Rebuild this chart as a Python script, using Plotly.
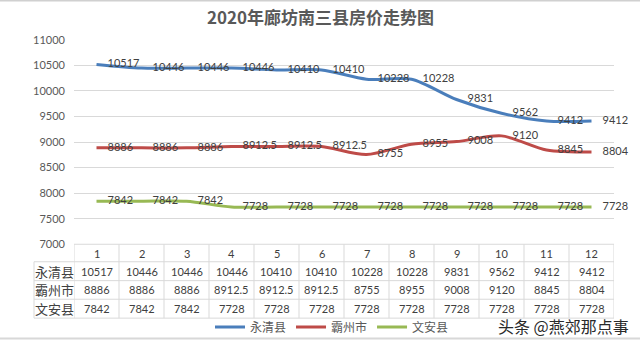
import plotly.graph_objects as go

# ---------------- data ----------------
title_text = "2020年廊坊南三县房价走势图"
months = [1, 2, 3, 4, 5, 6, 7, 8, 9, 10, 11, 12]
series_names = ["永清县", "霸州市", "文安县"]
yongqing = [10517, 10446, 10446, 10446, 10410, 10410, 10228, 10228, 9831, 9562, 9412, 9412]
bazhou = [8886, 8886, 8886, 8912.5, 8912.5, 8912.5, 8755, 8955, 9008, 9120, 8845, 8804]
wenan = [7842, 7842, 7842, 7728, 7728, 7728, 7728, 7728, 7728, 7728, 7728, 7728]
y_ticks = [7000, 7500, 8000, 8500, 9000, 9500, 10000, 10500, 11000]
watermark = "头条 @燕郊那点事"

# ---------------- style ----------------
W, H = 640, 342
colors = ["#4A7EBB", "#BE4B48", "#98B954"]
FONT = "Lato, 'Noto Sans CJK SC', sans-serif"
CJK = "'Noto Sans CJK SC', sans-serif"
TXT = "#404040"
GRID = "#D9D9D9"

plot_left, plot_right = 74, 614      # px
plot_top, plot_bottom = 40, 245.7    # px
label_left = 34                      # px
row_lines = [245.7, 263.3, 282.3, 301.0, 320.0]  # px


def py(p):
    return 1 - p / H


def px(p):
    return p / W


def fmt(v):
    return f"{v:g}"


series = [yongqing, bazhou, wenan]

fig = go.Figure()
for name, vals, c in zip(series_names, series, colors):
    fig.add_trace(go.Scatter(
        x=months, y=vals, name=name, mode="lines+markers+text",
        line=dict(color=c, width=3, shape="spline", smoothing=0.8),
        marker=dict(size=16, opacity=0, color=c),
        text=[fmt(v) for v in vals], textposition="middle right",
        textfont=dict(family=FONT, size=11, color=TXT),
        cliponaxis=False, hoverinfo="skip", showlegend=False,
    ))
# legend entries (line samples only)
for name, c in zip(series_names, colors):
    fig.add_trace(go.Scatter(x=[None], y=[None], name=name, mode="lines",
                             line=dict(color=c, width=3), showlegend=True,
                             hoverinfo="skip"))

shapes = []
annotations = []


def ann(x, y, text, font, xref="paper"):
    annotations.append(dict(x=x, y=y, xref=xref, yref="paper", text=text,
                            showarrow=False, xanchor="center", yanchor="middle",
                            font=font))


# table horizontal lines
for i, r in enumerate(row_lines):
    x0 = px(plot_left) if i == 0 else px(label_left)
    shapes.append(dict(type="line", xref="paper", yref="paper",
                       x0=x0, x1=px(plot_right), y0=py(r), y1=py(r),
                       line=dict(color=GRID, width=1)))
# table vertical lines (category boundaries)
bounds = [m - 0.5 for m in months] + [months[-1] + 0.5]
for b in bounds:
    shapes.append(dict(type="line", xref="x", yref="paper",
                       x0=b, x1=b, y0=py(row_lines[0]), y1=py(row_lines[-1]),
                       line=dict(color=GRID, width=1)))
shapes.append(dict(type="line", xref="paper", yref="paper",
                   x0=px(label_left), x1=px(label_left),
                   y0=py(row_lines[1]), y1=py(row_lines[-1]),
                   line=dict(color=GRID, width=1)))
# frame lines of the picture
shapes.append(dict(type="line", xref="paper", yref="paper", x0=0, x1=1,
                   y0=py(0.5), y1=py(0.5), line=dict(color="#D0D0D0", width=2)))
shapes.append(dict(type="line", xref="paper", yref="paper", x0=0, x1=1,
                   y0=py(340.5), y1=py(340.5), line=dict(color="#D8D8D8", width=2)))

numfont = dict(family=FONT, size=11, color=TXT)
# header row
hy = (row_lines[0] + row_lines[1]) / 2
for m in months:
    ann(m, py(hy), str(m), numfont, xref="x")
# data rows
for r, (name, vals) in enumerate(zip(series_names, series)):
    cy = (row_lines[r + 1] + row_lines[r + 2]) / 2
    ann(px((label_left + plot_left) / 2), py(cy), name,
        dict(family=CJK, size=13, color=TXT))
    for m, v in zip(months, vals):
        ann(m, py(cy), fmt(v), numfont, xref="x")

# title
ann(0.5, py(17), "<b>" + title_text + "</b>", dict(family=CJK, size=17, color="#595959"))
# watermark
ann(px(563), py(328), watermark, dict(family=CJK, size=16, color="#2A2A2A"))

fig.update_layout(
    width=W, height=H,
    margin=dict(l=0, r=0, t=0, b=0),
    paper_bgcolor="white", plot_bgcolor="white",
    shapes=shapes, annotations=annotations,
    showlegend=True,
    legend=dict(orientation="h", x=px(332), xanchor="center", y=py(329), yanchor="middle",
                font=dict(family=CJK, size=12, color="#595959"),
                itemwidth=30, tracegroupgap=0, bgcolor="rgba(0,0,0,0)"),
    xaxis=dict(domain=[px(plot_left), px(plot_right)], range=[0.5, 12.5],
               showticklabels=False, showgrid=False, zeroline=False,
               showline=False, ticks="", automargin=False),
    yaxis=dict(domain=[py(plot_bottom), py(plot_top)], range=[7000, 11000],
               tickvals=y_ticks, ticktext=[str(t) for t in y_ticks],
               showgrid=True, gridcolor=GRID, gridwidth=1,
               zeroline=False, showline=False, ticks="", automargin=False,
               tickfont=dict(family=FONT, size=11, color="#595959"),
               ticklabelstandoff=8),
)

fig.write_html("out.html")
